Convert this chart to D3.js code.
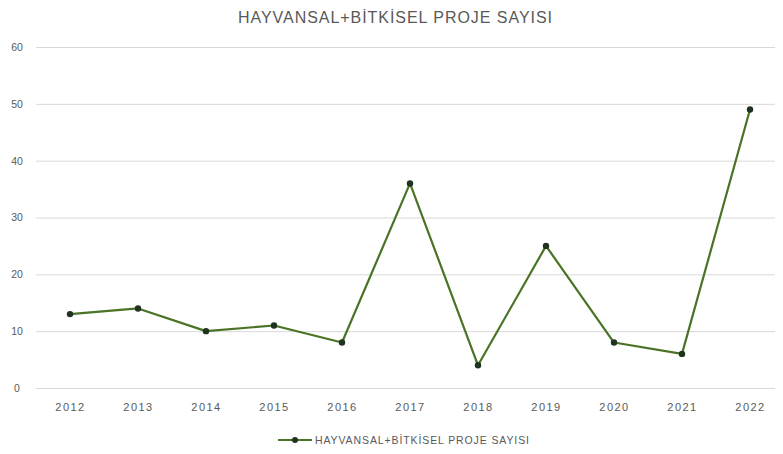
<!DOCTYPE html>
<html><head><meta charset="utf-8">
<script src="https://cdn.jsdelivr.net/npm/d3@7"></script>
<style>body{margin:0;background:#fff}svg{display:block;font-family:"Liberation Sans",Arial,sans-serif}</style>
</head><body><svg id="c" width="783" height="454"></svg>
<script>
const title = "HAYVANSAL+BİTKİSEL PROJE SAYISI";
const seriesName = "HAYVANSAL+BİTKİSEL PROJE SAYISI";
const years = ["2012","2013","2014","2015","2016","2017","2018","2019","2020","2021","2022"];
const values = [13,14,10,11,8,36,4,25,8,6,49];
const yTicks = [0,10,20,30,40,50,60];

(function(){
const svg = d3.select("#c");
const mLeft = 36, mRight = 784, mTop = 47, mBottom = 388;

const x = d3.scalePoint().domain(years).range([mLeft, mRight]).padding(0.5);
const y = d3.scaleLinear().domain([0,60]).range([mBottom, mTop]);

svg.append("text").attr("x", 395).attr("y", 23).attr("text-anchor","middle")
  .attr("font-size", 16).attr("fill","#595959")
  .attr("textLength", 314).attr("lengthAdjust","spacing").text(title);

const yAxis = svg.append("g").attr("transform",`translate(${mLeft},0)`)
  .call(d3.axisLeft(y).tickValues(yTicks).tickSize(-(775-mLeft)).tickPadding(19));
yAxis.select(".domain").remove();
yAxis.selectAll(".tick line").attr("stroke","#d9d9d9").attr("stroke-width",1);
yAxis.selectAll(".tick text").attr("fill","#595959").attr("font-size",10.5).attr("text-anchor","middle").attr("dx",0);

const xAxis = svg.append("g").attr("transform",`translate(0,${mBottom})`)
  .call(d3.axisBottom(x).tickSize(0).tickPadding(15));
xAxis.select(".domain").remove();
xAxis.selectAll(".tick text").attr("fill","#595959").attr("font-size",11).attr("letter-spacing",1.5);

const line = d3.line().x((d,i)=>x(years[i])).y(d=>y(d));
svg.append("path").datum(values).attr("d", line).attr("fill","none")
  .attr("stroke","#4a7326").attr("stroke-width",2.2).attr("stroke-linejoin","round");
svg.selectAll("circle.pt").data(values).join("circle").attr("class","pt")
  .attr("cx",(d,i)=>x(years[i])).attr("cy",d=>y(d)).attr("r",3.2).attr("fill","#1f3320");

const lg = svg.append("g").attr("transform","translate(278,440)");
lg.append("line").attr("x1",0).attr("x2",34).attr("y1",0).attr("y2",0).attr("stroke","#4a7326").attr("stroke-width",2.2);
lg.append("circle").attr("cx",17).attr("cy",0).attr("r",3).attr("fill","#1f3320");
lg.append("text").attr("x",37).attr("y",3.8).attr("font-size",10.5).attr("fill","#595959")
  .attr("textLength", 214).attr("lengthAdjust","spacing").text(seriesName);
})();
</script></body></html>
